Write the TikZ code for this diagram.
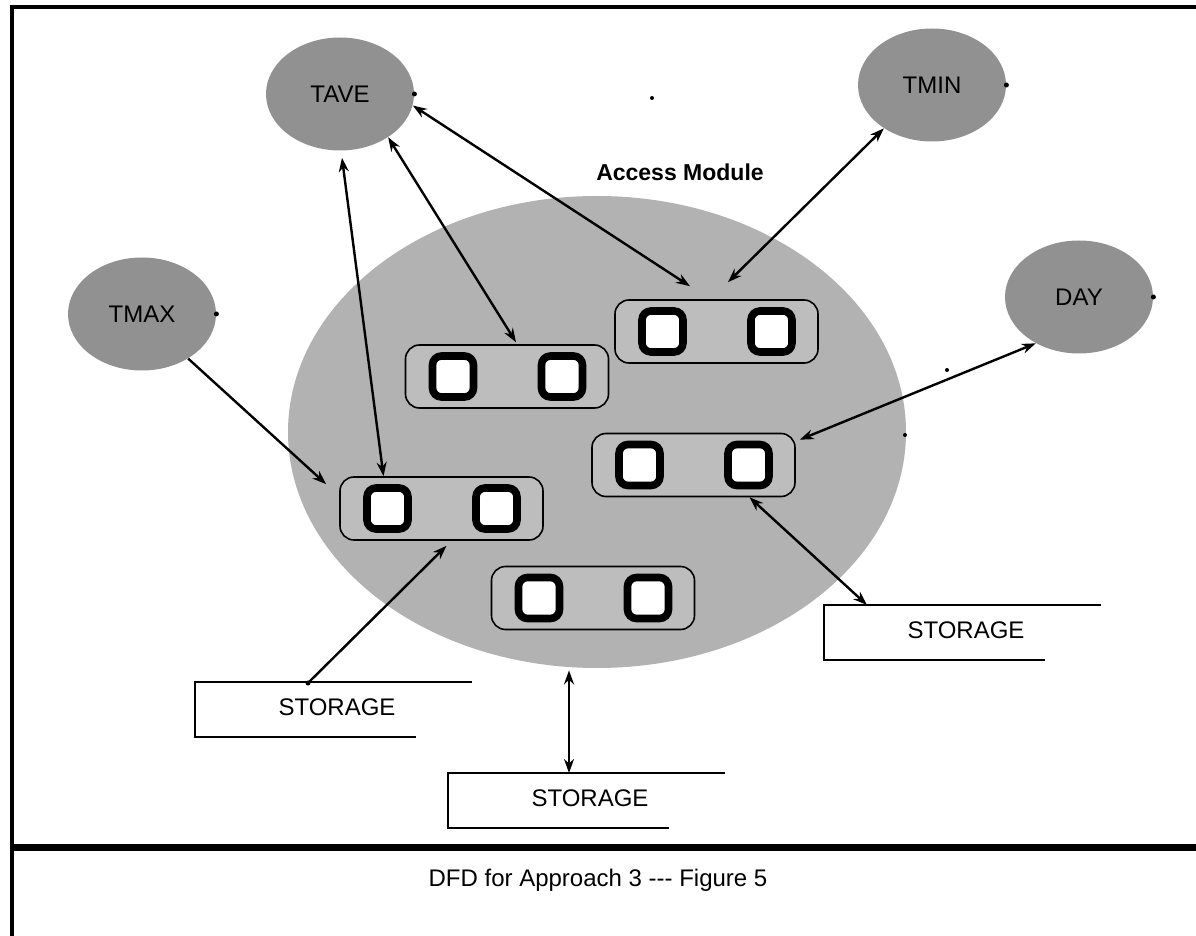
\documentclass[tikz,border=0pt]{standalone}
\usepackage{fontspec}
\newfontfamily\hv{Liberation Sans}
\usetikzlibrary{arrows.meta,calc,shapes.geometric}

\definecolor{modfill}{gray}{0.70}
\definecolor{extfill}{gray}{0.57}
\definecolor{grpfill}{gray}{0.74}

\tikzset{
  ext/.style={ellipse, fill=extfill, minimum width=74pt, minimum height=56.5pt,
    inner sep=0pt, font=\hv\fontsize{12}{14}\selectfont},
  grp/.style={rectangle, rounded corners=7pt, draw, line width=0.8pt, fill=grpfill,
    minimum width=101.5pt, minimum height=31.5pt},
  sq/.style={rectangle, rounded corners=4.5pt, draw, line width=3.8pt, fill=white,
    minimum size=20.5pt, inner sep=0pt},
  flow/.style={line width=1.2pt, -{Stealth[length=7pt,width=5pt]}},
  dflow/.style={line width=1.2pt, {Stealth[length=7pt,width=5pt]}-{Stealth[length=7pt,width=5pt]}},
  storetxt/.style={font=\hv\fontsize{12}{14}\selectfont, inner sep=0pt},
  storeline/.style={line width=1.3pt},
  speck/.style={circle, fill=black, inner sep=0pt, minimum size=2.5pt},
  frameline/.style={line width=2pt},
}

% a data store: text with an open-ended box around it
\newcommand\storagebox[2]{%
  \node[storetxt] (#1) at (#2) {STORAGE};
  \draw[storeline] ($(#1.center)+(135,-25)$) -- ($(#1.center)+(-142,-25)$)
    -- ($(#1.center)+(-142,30)$) -- ($(#1.center)+(79,30)$);
}

% a process pair: rounded frame holding two process squares
\newcommand\procpair[2]{%
  \node[grp] (#1) at (#2) {};
  \node[sq] (#1a) at ($(#1.center)+(-54,0)$) {};
  \node[sq] (#1b) at ($(#1.center)+(55,0)$) {};
}

\begin{document}
\begin{tikzpicture}[x=0.5pt, y=-0.5pt]
  \useasboundingbox[fill=white] (0,0) rectangle (1196,936);

  % page frame and caption divider
  \draw[frameline] (12,936) -- (12,7) -- (1196,7);
  \draw[line width=3.5pt] (12,847) -- (1196,847);
  \node[font=\hv\fontsize{12}{14}\selectfont] (caption) at (598,880)
    {DFD for Approach 3 {-}{-}{-} Figure 5};

  % access module
  \node[ellipse, fill=modfill, minimum width=309pt, minimum height=236pt, inner sep=0pt]
    (module) at (597,432) {};
  \node[font=\hv\bfseries\fontsize{11.5}{13}\selectfont] (modlabel) at (680,172) {Access Module};

  % process pairs inside the module
  \procpair{g1}{507,376.5}
  \procpair{g2}{716.5,331.5}
  \procpair{g3}{693.5,465}
  \procpair{g4}{441.5,508.5}
  \procpair{g5}{593,598}

  % external entities
  \node[ext] (tave) at (340,94) {TAVE};
  \node[ext] (tmin) at (932,85) {TMIN};
  \node[ext] (tmax) at (142,314) {TMAX};
  \node[ext] (day)  at (1079,297) {DAY};
  \foreach \e in {tave,tmin,tmax,day}
    \node[speck] at (\e.east) {};

  % stores
  \storagebox{s1}{337,707}
  \storagebox{s2}{590,798}
  \storagebox{s3}{966,630}

  % flows
  \draw[flow]  (tmax.-44) -- ($(g4.north west)+(-13,8)$);
  \draw[dflow] ($(tave.south)+(2,7)$) -- ($(g4.north)+(-58,0)$);
  \draw[dflow] (tave.-42) -- ($(g1.north)+(9,-2)$);
  \draw[dflow] (tave.-9) -- ($(g2.north)+(-26.5,-13)$);
  \draw[dflow] ($(g2.north)+(11.5,-17)$) -- (tmin.222.7);
  \draw[dflow] (day.227.5) -- ($(g3.north east)+(4,7)$);
  \draw[dflow] ($(g3.south)+(56,0)$) -- ($(s3.center)+(-99,-25)$);
  \node[speck] (s1dot) at ($(s1.center)+(-29,-24)$) {};
  \draw[flow]  (s1dot.center) -- ($(g4.south)+(5,5)$);
  \draw[dflow] ($(module.south)+(-28,2)$) -- ($(s2.center)+(-21,-25)$);

  % loose specks on the sheet
  \node[speck, minimum size=2pt] (spk1) at (652,98) {};
  \node[speck, minimum size=2pt] (spk2) at (905,435) {};
  \node[speck, minimum size=2pt] (spk3) at (947,370) {};
\end{tikzpicture}
\end{document}
